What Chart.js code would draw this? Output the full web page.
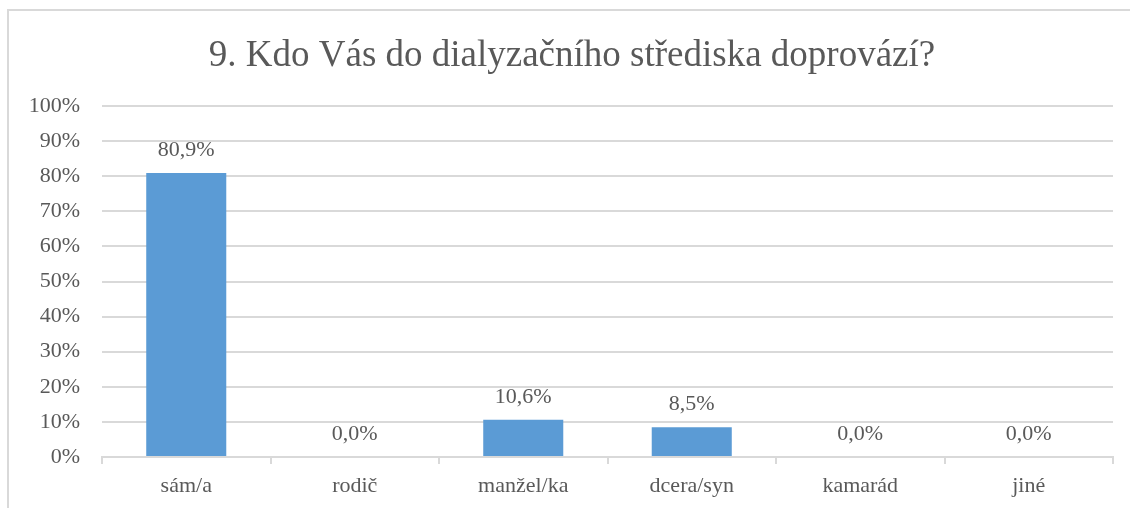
<!DOCTYPE html>
<html>
<head>
<meta charset="utf-8">
<script src="https://cdn.jsdelivr.net/npm/chart.js@4"></script>
<style>
  html, body { margin: 0; padding: 0; background: #fff; }
  #wrap { width: 1130px; height: 508px; }
</style>
</head>
<body>
<div id="wrap"><canvas id="chart" width="1130" height="508"></canvas></div>
<script>
const categories = ['sám/a', 'rodič', 'manžel/ka', 'dcera/syn', 'kamarád', 'jiné'];
const values = [80.9, 0.0, 10.6, 8.5, 0.0, 0.0];
const yTicks = [0, 10, 20, 30, 40, 50, 60, 70, 80, 90, 100];
const chartTitle = '9. Kdo Vás do dialyzačního střediska doprovází?';

const textColor = '#595959';
const lineColor = '#d9d9d9';
const serif = "'Liberation Serif', 'Times New Roman', serif";

// rámeček kolem grafu + nadpis
const framePlugin = {
    id: 'frame',
    beforeDraw(chart) {
        const ctx = chart.ctx;
        ctx.save();
        ctx.strokeStyle = lineColor;
        ctx.lineWidth = 2;
        ctx.beginPath();
        ctx.moveTo(8, 508);
        ctx.lineTo(8, 10);
        ctx.lineTo(1130, 10);
        ctx.stroke();

        ctx.font = '37px ' + serif;
        ctx.fillStyle = textColor;
        ctx.textAlign = 'center';
        ctx.textBaseline = 'alphabetic';
        ctx.fillText(chartTitle, 572, 66);
        ctx.restore();
    }
};

// popisky hodnot nad sloupci
const valueLabels = {
    id: 'valueLabels',
    afterDatasetsDraw(chart) {
        const ctx = chart.ctx;
        const meta = chart.getDatasetMeta(0);
        ctx.save();
        ctx.font = '22px ' + serif;
        ctx.fillStyle = textColor;
        ctx.textAlign = 'center';
        ctx.textBaseline = 'alphabetic';
        meta.data.forEach((bar, i) => {
            const txt = values[i].toFixed(1).replace('.', ',') + '%';
            ctx.fillText(txt, bar.x, bar.y - 17);
        });
        ctx.restore();
    }
};

new Chart(document.getElementById('chart').getContext('2d'), {
    type: 'bar',
    data: {
        labels: categories,
        datasets: [{
            data: values,
            backgroundColor: '#5b9bd5',
            borderWidth: 0,
            barPercentage: 0.475,
            categoryPercentage: 1
        }]
    },
    options: {
        responsive: false,
        animation: false,
        layout: { padding: { left: 0, right: 17, top: 106, bottom: 0 } },
        plugins: {
            legend: { display: false },
            tooltip: { enabled: false },
            title: { display: false }
        },
        scales: {
            x: {
                grid: {
                    display: true,
                    drawOnChartArea: false,
                    drawTicks: true,
                    tickLength: 7,
                    color: lineColor,
                    lineWidth: 2,
                    offset: true
                },
                border: { display: true, color: lineColor, width: 2 },
                ticks: { color: textColor, font: { family: serif, size: 22 }, padding: 9 },
                afterFit(scale) { scale.height = 51; }
            },
            y: {
                min: 0,
                max: 100,
                afterBuildTicks(scale) { scale.ticks = yTicks.map(v => ({ value: v })); },
                grid: { color: lineColor, lineWidth: 2, drawTicks: false },
                border: { display: false },
                ticks: {
                    color: textColor,
                    font: { family: serif, size: 22 },
                    padding: 22,
                    callback: v => v + '%'
                },
                afterFit(scale) { scale.width = 102; }
            }
        }
    },
    plugins: [framePlugin, valueLabels]
});
</script>
</body>
</html>
